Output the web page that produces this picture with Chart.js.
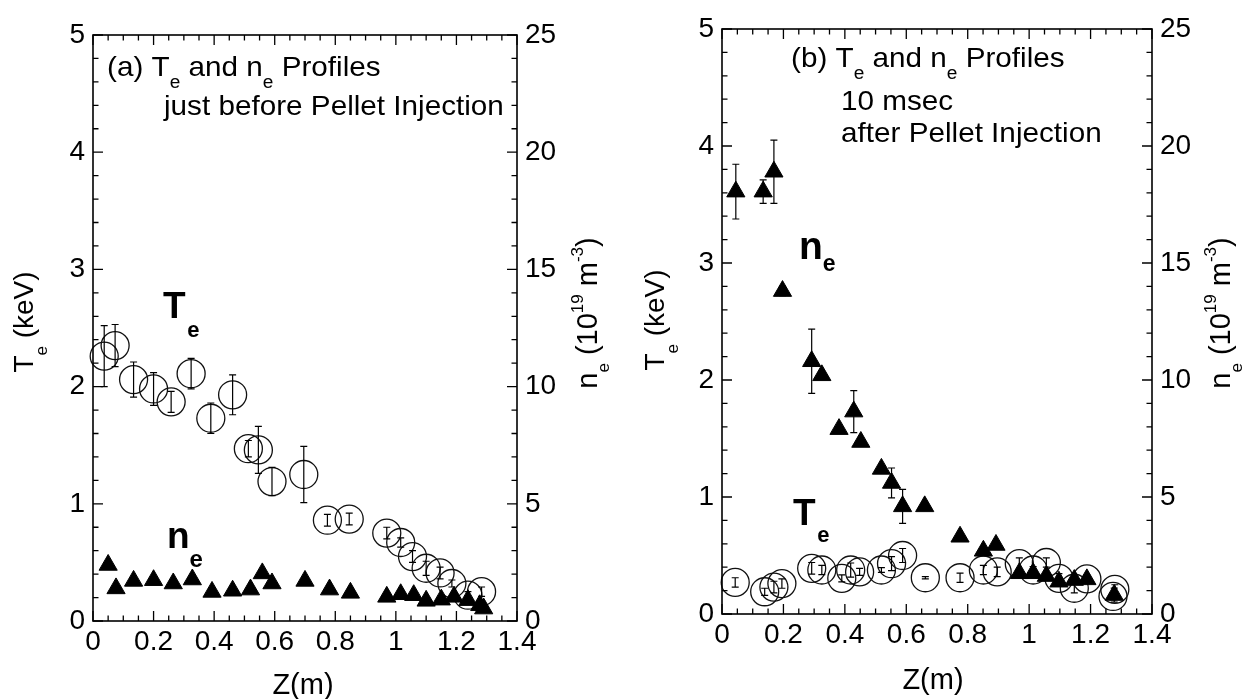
<!DOCTYPE html>
<html><head><meta charset="utf-8">
<script src="https://cdn.jsdelivr.net/npm/chart.js@4.4.1/dist/chart.umd.min.js"></script>
<style>
html,body{margin:0;padding:0;background:#fff;}
#wrap{position:relative;width:1245px;height:699px;overflow:hidden;background:#fff;}
canvas{position:absolute;top:0;}
</style></head>
<body><div id="wrap">
<canvas id="ca" width="620" height="699" style="left:0"></canvas>
<canvas id="cb" width="625" height="699" style="left:620px"></canvas>
</div>
<script>
const FONT = "'Liberation Sans', Arial, Helvetica, sans-serif";

// ---- Panel (a): just before pellet injection ----
const zTe_a   = [0.037,0.073,0.134,0.200,0.258,0.324,0.389,0.461,0.513,0.546,0.591,0.696,0.774,0.846,0.970,1.016,1.055,1.100,1.146,1.185,1.238,1.283];
const te_a    = [2.26,2.35,2.06,1.98,1.87,2.11,1.73,1.93,1.47,1.46,1.19,1.25,0.86,0.87,0.75,0.67,0.55,0.45,0.41,0.32,0.22,0.25];
const teErr_a = [0.26,0.18,0.15,0.14,0.09,0.13,0.13,0.17,0.07,0.20,0.12,0.24,0.05,0.05,0.05,0.04,0.05,0.06,0.05,0.03,0.03,0.04];
const zNe_a   = [0.050,0.076,0.134,0.200,0.265,0.328,0.393,0.461,0.520,0.559,0.591,0.700,0.781,0.850,0.970,1.016,1.059,1.100,1.150,1.192,1.238,1.277,1.290];
const ne_a    = [2.39,1.39,1.71,1.74,1.60,1.77,1.24,1.29,1.34,2.03,1.60,1.71,1.34,1.20,1.03,1.14,1.10,0.86,0.91,1.03,0.89,0.67,0.53];

// ---- Panel (b): 10 msec after pellet injection ----
const zTe_b   = [0.043,0.139,0.169,0.195,0.292,0.325,0.390,0.419,0.448,0.519,0.552,0.588,0.662,0.775,0.851,0.896,0.968,1.013,1.056,1.097,1.147,1.188,1.279,1.273];
const te_b    = [0.27,0.19,0.23,0.26,0.39,0.376,0.305,0.376,0.36,0.376,0.43,0.50,0.31,0.31,0.376,0.36,0.43,0.376,0.44,0.305,0.22,0.30,0.21,0.15];
const teErr_b = [0.04,0.03,0.05,0.04,0.05,0.04,0.03,0.06,0.03,0.02,0.06,0.06,0.01,0.04,0.04,0.04,0.05,0.03,0.04,0.04,0.04,0.03,0.04,0.03];
const zNe_b   = [0.045,0.134,0.169,0.197,0.292,0.325,0.381,0.429,0.452,0.519,0.552,0.588,0.660,0.775,0.851,0.892,0.968,1.013,1.056,1.097,1.147,1.188,1.277];
const ne_b    = [18.05,18.05,18.9,13.8,10.8,10.2,7.9,8.65,7.35,6.2,5.6,4.6,4.6,3.3,2.7,2.95,1.74,1.74,1.62,1.38,1.45,1.48,0.81];
const neErr_b = [1.17,0.5,1.35,0.2,1.37,0,0,0.9,0,0,0.64,0.73,0,0,0,0,0,0,0,0,0,0,0.3];

// ---- Axes ----
const zRange = [0, 1.4], zStep = 0.2, zMinor = 0.05;
const teRange = [0, 5], teStep = 1, teMinor = 0.2;
const neRange = [0, 25], neStep = 5, neMinor = 1;

Chart.defaults.font.family = FONT;
Chart.defaults.color = '#000';

function pts(xs, ys){ return xs.map((x,i)=>({x:x, y:ys[i]})); }

function drawRich(ctx, x, y, parts, align, rot, sx){
  ctx.save(); ctx.translate(x,y); if(rot) ctx.rotate(rot); if(sx) ctx.scale(sx,1);
  ctx.textBaseline='alphabetic'; ctx.textAlign='left'; ctx.fillStyle='#000';
  const f = p => (p[2]?'bold ':'')+p[1]+'px '+FONT;
  const ws = parts.map(p=>{ctx.font=f(p); return ctx.measureText(p[0]).width;});
  const total = ws.reduce((a,b)=>a+b,0);
  let cx = align==='center' ? -total/2 : 0;
  parts.forEach((p,i)=>{ctx.font=f(p); ctx.fillText(p[0], cx, p[3]||0); cx+=ws[i];});
  ctx.restore();
}

const errPlugin = {id:'errbars', afterDatasetsDraw(chart){
  const ctx = chart.ctx, xs = chart.scales.x;
  chart.data.datasets.forEach(ds=>{
    if(!ds.errs) return;
    const ys = chart.scales[ds.yAxisID];
    ctx.save(); ctx.strokeStyle='#000'; ctx.lineWidth=1.2;
    ds.data.forEach((p,i)=>{
      const e = ds.errs[i]; if(!e) return;
      const px = xs.getPixelForValue(p.x), y1 = ys.getPixelForValue(p.y+e), y2 = ys.getPixelForValue(p.y-e);
      ctx.beginPath();
      ctx.moveTo(px,y1); ctx.lineTo(px,y2);
      ctx.moveTo(px-3.5,y1); ctx.lineTo(px+3.5,y1);
      ctx.moveTo(px-3.5,y2); ctx.lineTo(px+3.5,y2);
      ctx.stroke();
    });
    ctx.restore();
  });
}};

const framePlugin = {id:'frame', afterDraw(chart){
  const ctx = chart.ctx, a = chart.chartArea, s = chart.scales;
  ctx.save(); ctx.strokeStyle='#000'; ctx.lineWidth=1.6;
  ctx.strokeRect(a.left, a.top, a.right-a.left, a.bottom-a.top);
  ctx.lineWidth=1.3; ctx.beginPath();
  const n = Math.round((zRange[1]-zRange[0])/zMinor);
  for(let k=0;k<=n;k++){
    const px = s.x.getPixelForValue(zRange[0]+k*zMinor), L = (k%4===0)?10:5.5;
    ctx.moveTo(px,a.bottom); ctx.lineTo(px,a.bottom-L);
    ctx.moveTo(px,a.top); ctx.lineTo(px,a.top+L);
  }
  const m = Math.round((teRange[1]-teRange[0])/teMinor);
  for(let k=0;k<=m;k++){
    const py = s.y.getPixelForValue(teRange[0]+k*teMinor), L = (k%5===0)?10:5.5;
    ctx.moveTo(a.left,py); ctx.lineTo(a.left+L,py);
  }
  const q = Math.round((neRange[1]-neRange[0])/neMinor);
  for(let k=0;k<=q;k++){
    const py = s.y2.getPixelForValue(neRange[0]+k*neMinor), L = (k%5===0)?10:5.5;
    ctx.moveTo(a.right,py); ctx.lineTo(a.right-L,py);
  }
  ctx.stroke(); ctx.restore();
}};

function makeChart(id, cfg){
  const annot = {id:'annot', afterDraw(chart){ cfg.texts.forEach(t=>drawRich(chart.ctx,t.x,t.y,t.parts,t.align,t.rot,t.sx)); }};
  const tickFont = {family:FONT, size:28};
  return new Chart(document.getElementById(id), {
    type:'scatter',
    data:{datasets:[
      {label:'ne', data:pts(cfg.zNe,cfg.ne), yAxisID:'y2', order:0, pointStyle:'triangle', pointRadius:10.5,
       backgroundColor:'#000', borderColor:'#000', borderWidth:1, errs:cfg.neErr, clip:false},
      {label:'Te', data:pts(cfg.zTe,cfg.te), yAxisID:'y', order:1, pointStyle:'circle', pointRadius:14,
       backgroundColor:'rgba(0,0,0,0)', borderColor:'#111', borderWidth:1.3, errs:cfg.teErr, clip:false}
    ]},
    options:{
      responsive:false, animation:false, devicePixelRatio:1, events:[],
      layout:{padding:{top:cfg.top,left:0,right:0,bottom:0}},
      plugins:{legend:{display:false}, tooltip:{enabled:false}},
      scales:{
        x:{type:'linear', position:'bottom', min:zRange[0], max:zRange[1],
           grid:{display:false, drawTicks:false}, border:{display:false},
           ticks:{stepSize:zStep, padding:4, font:tickFont, color:'#000', maxRotation:0, autoSkip:false,
                  callback:v=>String(Math.round(v*10)/10)},
           afterFit(sc){ sc.height = cfg.xh; }},
        y:{type:'linear', position:'left', min:teRange[0], max:teRange[1],
           grid:{display:false, drawTicks:false}, border:{display:false},
           ticks:{stepSize:teStep, padding:8, font:tickFont, color:'#000'},
           afterFit(sc){ sc.width = cfg.yw; }},
        y2:{type:'linear', position:'right', min:neRange[0], max:neRange[1],
           grid:{display:false, drawTicks:false}, border:{display:false},
           ticks:{stepSize:neStep, padding:8, font:tickFont, color:'#000'},
           afterFit(sc){ sc.width = cfg.y2w; }}
      }
    },
    plugins:[errPlugin, framePlugin, annot]
  });
}

const R = -Math.PI/2;
makeChart('ca', {
  zTe:zTe_a, te:te_a, teErr:teErr_a, zNe:zNe_a, ne:ne_a, neErr:null,
  top:35, yw:93, y2w:103, xh:78,
  texts:[
    {x:107,y:76,sx:1.06,parts:[['(a) T',28],['e',18,false,12],[' and n',28],['e',18,false,12],[' Profiles',28]]},
    {x:164,y:115,sx:1.06,parts:[['just before Pellet Injection',28]]},
    {x:163,y:318,parts:[['T',37,true],[' ',6,true],['e',22,true,19]]},
    {x:167,y:548,parts:[['n',37,true],['e',24,true,19]]},
    {x:33,y:322,rot:R,align:'center',parts:[['T',28],['e',17,false,14],[' (keV)',28]]},
    {x:597,y:313,rot:R,align:'center',parts:[['n',29],['e',17,false,12],[' (10',29],['19',17,false,-14],[' m',29],['-3',17,false,-14],[')',29]]},
    {x:303,y:694,align:'center',parts:[['Z(m)',29]]}
  ]
});
makeChart('cb', {
  zTe:zTe_b, te:te_b, teErr:teErr_b, zNe:zNe_b, ne:ne_b, neErr:neErr_b,
  top:29, yw:102, y2w:93, xh:85,
  texts:[
    {x:171,y:67,sx:1.06,parts:[['(b) T',28],['e',18,false,12],[' and n',28],['e',18,false,12],[' Profiles',28]]},
    {x:221,y:110,sx:1.06,parts:[['10 msec',28]]},
    {x:221,y:142,sx:1.06,parts:[['after Pellet Injection',28]]},
    {x:179,y:259,parts:[['n',39,true],['e',23,true,12]]},
    {x:173,y:525,parts:[['T',37,true],[' ',6,true],['e',22,true,17]]},
    {x:44,y:320,rot:R,align:'center',parts:[['T',28],['e',17,false,14],[' (keV)',28]]},
    {x:610,y:313,rot:R,align:'center',parts:[['n',29],['e',17,false,12],[' (10',29],['19',17,false,-14],[' m',29],['-3',17,false,-14],[')',29]]},
    {x:313,y:689,align:'center',parts:[['Z(m)',29]]}
  ]
});
</script>
</body></html>
